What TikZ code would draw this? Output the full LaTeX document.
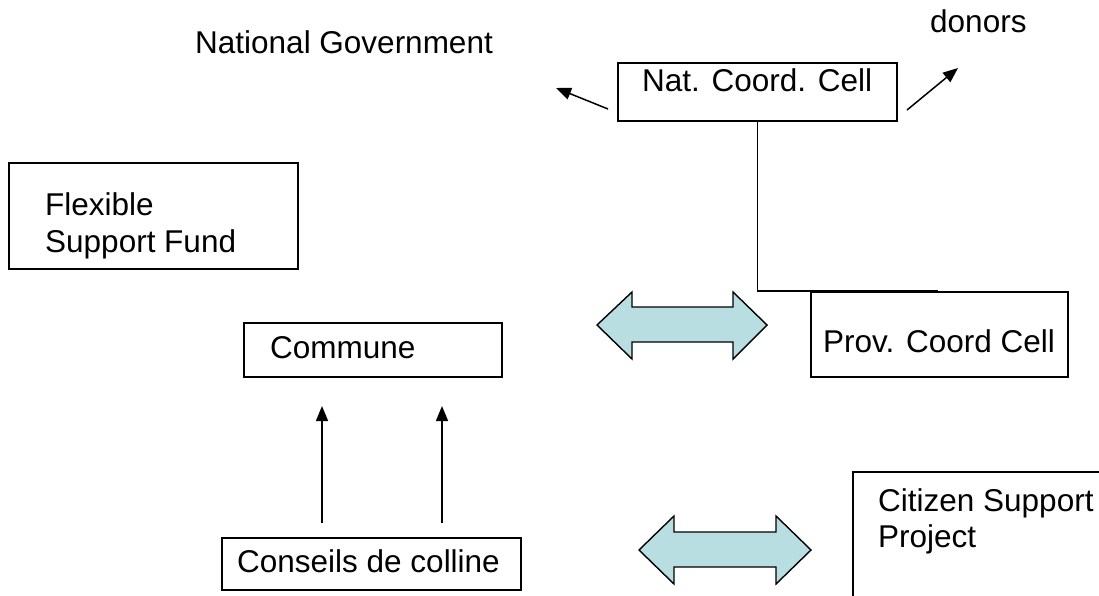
\documentclass[tikz,border=0pt]{standalone}
\usepackage{fontspec}
\setmainfont{Liberation Sans}
\usetikzlibrary{arrows.meta}
\definecolor{arrowfill}{RGB}{184,222,226}
\tikzset{
  box/.style={draw, line width=1.6pt, inner sep=0pt, outer sep=0pt, anchor=north west},
  lbl/.style={inner sep=0pt, anchor=base west, font=\fontsize{31.5pt}{36pt}\selectfont},
  arr/.style={line width=1.5pt, -{Triangle[length=15pt,width=12pt]}},
  plainline/.style={line width=1.6pt},
  dblarrow/.style={draw, line width=1.4pt, fill=arrowfill, line join=miter}
}
\begin{document}
\begin{tikzpicture}[x=1pt,y=-1pt]
\useasboundingbox (0,0) rectangle (1099,596);
\clip (0,0) rectangle (1099,596);
\fill[white] (0,0) rectangle (1099,596);

% boxes
\node[box, minimum width=279pt, minimum height=58pt] (nat) at (618,63) {};
\node[box, minimum width=257pt, minimum height=85pt] (prov) at (811,292) {};
\node[box, minimum width=289pt, minimum height=106pt] (flex) at (9,163) {};
\node[box, minimum width=258pt, minimum height=54pt] (commune) at (244,323) {};
\node[box, minimum width=299pt, minimum height=52pt] (conseils) at (222,538) {};
\node[box, minimum width=270pt, minimum height=170pt] (citizen) at (853,472) {};

% texts
\node[lbl] (natgov) at (195,54) {National Government};
\node[lbl] (donors) at (930,33) {donors};
\node[lbl] (nattxt) at (642,92) {Nat. Coord. Cell};
\node[lbl] (flex1) at (45,215) {Flexible};
\node[lbl] (flex2) at (45,252) {Support Fund};
\node[lbl] (communetxt) at (270,358) {Commune};
\node[lbl] (provtxt) at (823,352) {Prov. Coord Cell};
\node[lbl] (conseilstxt) at (237,572) {Conseils de colline};
\node[lbl] (cit1) at (878,511) {Citizen Support};
\node[lbl] (cit2) at (878,547) {Project};

% connectors
\coordinate (ngS) at (608,109);
\coordinate (ngE) at (556,88);
\coordinate (doS) at (907,110);
\coordinate (doE) at (958,68);
\draw[arr] (ngS) -- (ngE);
\draw[arr] (doS) -- (doE);

\coordinate (pc) at (938,291);
\draw[plainline] (nat.south) |- (pc);

\coordinate (up1s) at (322,523);
\coordinate (up1e) at (322,406);
\coordinate (up2s) at (442,523);
\coordinate (up2e) at (442,406);
\draw[arr] (up1s) -- (up1e);
\draw[arr] (up2s) -- (up2e);

% double arrows
\draw[dblarrow] (597,325) -- (632,292) -- (632,307) -- (733,307) -- (733,292) -- (767,325)
  -- (733,359) -- (733,342) -- (632,342) -- (632,359) -- cycle;
\draw[dblarrow] (639,550) -- (674,516) -- (674,532) -- (776,532) -- (776,516) -- (811,550)
  -- (776,584) -- (776,567) -- (674,567) -- (674,584) -- cycle;
\end{tikzpicture}
\end{document}
